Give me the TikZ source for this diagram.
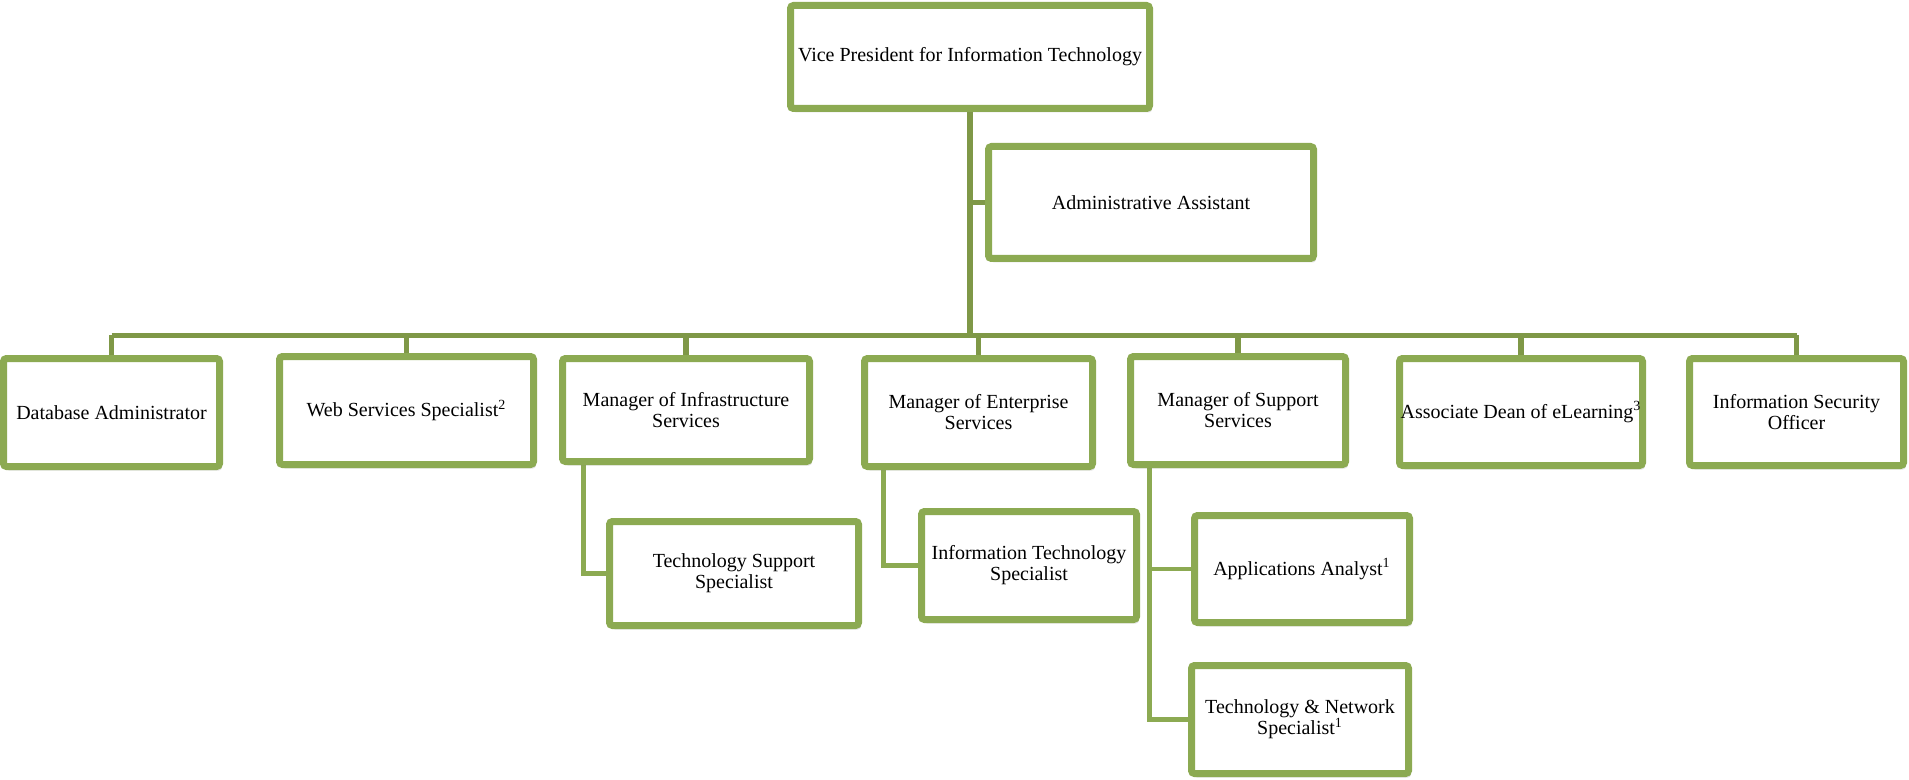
\documentclass[tikz,border=0pt]{standalone}
\usepackage{fontspec}
\setmainfont{Liberation Serif}
\usetikzlibrary{shadows,backgrounds,calc}
\definecolor{boxgreen}{RGB}{140,170,82}
\definecolor{linegreen}{RGB}{127,152,71}
\tikzset{
  org/.style={draw=boxgreen, line width=3.5pt, fill=white, rounded corners=1.5pt,
    align=center, inner sep=0pt, font=\fontsize{10}{10.5}\selectfont,
    drop shadow={shadow xshift=1.2pt, shadow yshift=-2pt, opacity=0.22}},
  bx/.style 2 args={org, minimum width={(#1-7)*0.5pt}, minimum height={(#2-7)*0.5pt}},
  conn/.style={draw=linegreen, line width=2.8pt},
  sub/.style={draw=boxgreen, line width=2.4pt},
}
\begin{document}
\begin{tikzpicture}[x=0.5pt,y=-0.5pt]
\useasboundingbox (0,0) rectangle (1909,780);
\node[bx={366}{110}] (vp) at (970,57) {Vice President for Information Technology};
\node[bx={332}{119}] (aa) at (1151,202.5) {Administrative Assistant};
\node[bx={223}{115}] (db) at (111.5,412.5) {Database Administrator};
\node[bx={261}{115}] (ws) at (406.5,410.5) {Web Services Specialist\textsuperscript{2}};
\node[bx={254}{110}] (mi) at (686,410) {Manager of Infrastructure\\Services};
\node[bx={235}{115}] (me) at (978.5,412.5) {Manager of Enterprise\\Services};
\node[bx={222}{115}] (ms) at (1238,410.5) {Manager of Support\\Services};
\node[bx={250}{114}] (ad) at (1521,412) {Associate Dean of eLearning\textsuperscript{3}};
\node[bx={221}{114}] (is) at (1796.5,412) {Information Security\\Officer};
\node[bx={256}{111}] (ts) at (734,573.5) {Technology Support\\Specialist};
\node[bx={222}{115}] (it) at (1029,565.5) {Information Technology\\Specialist};
\node[bx={222}{114}] (ap) at (1302,569) {Applications Analyst\textsuperscript{1}};
\node[bx={224}{115}] (tn) at (1300,719.5) {Technology \& Network\\Specialist\textsuperscript{1}};
\begin{scope}[on background layer]
  \coordinate (bus) at (970,335.5);
  \draw[conn] (vp.south) -- (bus);
  \draw[conn] (vp.south |- aa.west) -- (aa.west);
  \draw[conn] (bus -| db.north) -- (bus -| is.north);
  \foreach \n in {db,ws,mi,me,ms,ad,is} {
    \draw[conn] (bus -| \n.north) -- (\n.north);
  }
  \draw[sub] ($(mi.south west)+(24.5,0)$) |- (ts.west);
  \draw[sub] ($(me.south west)+(22.5,0)$) |- (it.west);
  \draw[sub] ($(ms.south west)+(22.5,0)$) |- (tn.west);
  \draw[sub] ($(ms.south west)+(22.5,0)$) |- (ap.west);
\end{scope}
\end{tikzpicture}
\end{document}
